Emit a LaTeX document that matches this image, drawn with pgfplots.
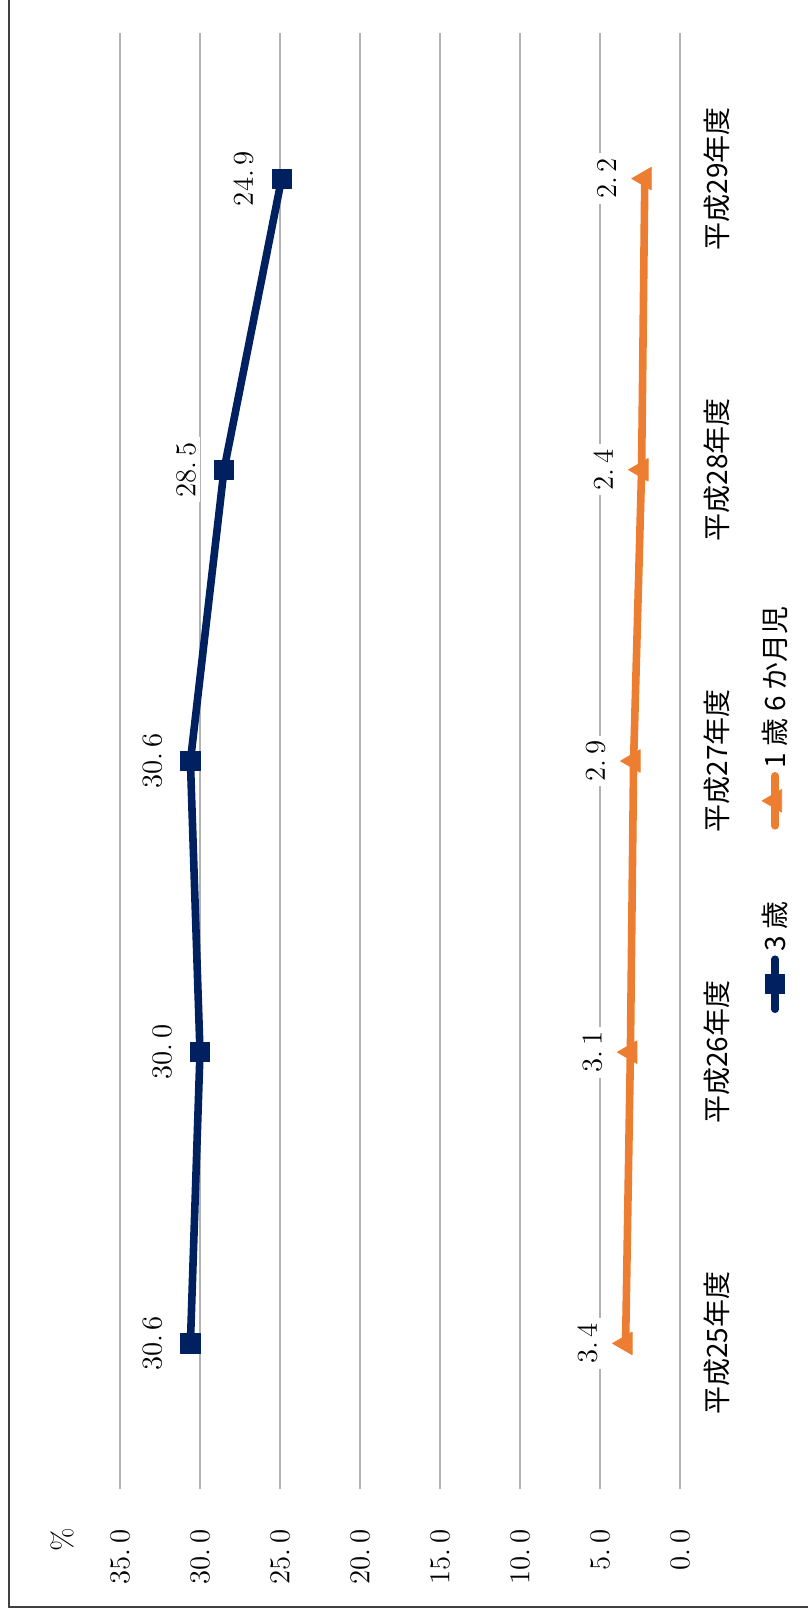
\documentclass[border=0pt]{standalone}
\usepackage{fontspec}
\usepackage{graphicx}
\usepackage{pgfplots}
\pgfplotsset{compat=1.18}
\newfontfamily\jp{Noto Sans CJK JP}
\definecolor{navy}{RGB}{0,32,96}
\definecolor{orng}{RGB}{237,125,49}
\definecolor{gridc}{RGB}{178,178,178}
\definecolor{framec}{RGB}{64,64,64}
\pgfplotsset{/pgf/number format/.cd, fixed, fixed zerofill, precision=1, dec sep={.\,}}
\begin{document}
\rotatebox{90}{%
\begin{tikzpicture}
\useasboundingbox (0,0) rectangle (804.5pt,404pt);
\draw[framec, line width=1.2pt] (1pt,0pt) -- (1pt,399.5pt) -- (804.5pt,399.5pt);
\begin{axis}[
  at={(60pt,64pt)}, anchor=south west,
  scale only axis, width=728pt, height=280pt,
  xmin=-0.5, xmax=4.5, ymin=0, ymax=35,
  xtick={0,1,2,3,4},
  xticklabels={平成25年度,平成26年度,平成27年度,平成28年度,平成29年度},
  ytick={0,5,10,15,20,25,30,35},
  axis line style={draw=none},
  major tick length=0pt,
  ymajorgrids,
  grid style={gridc, line width=1pt},
  clip=false,
  xticklabel style={font=\jp\fontsize{14}{16}\selectfont, anchor=center, yshift=-18.5pt},
  yticklabel style={font=\fontsize{14.5}{17}\selectfont, anchor=east, inner sep=0pt, xshift=-20pt},
  nodes near coords,
  every node near coord/.append style={font=\fontsize{15}{17}\selectfont, anchor=center, yshift=19pt, fill=white, inner sep=2.5pt, text=black},
  legend columns=2,
  legend style={at={(0.468,-0.170)}, anchor=center, draw=none, fill=none,
    font=\jp\fontsize{14}{16}\selectfont,
    /tikz/every even column/.append style={column sep=34pt}},
  legend image code/.code={\draw[#1, line cap=round, mark repeat=2, mark phase=2] plot coordinates {(0pt,0pt) (12.5pt,0pt) (25pt,0pt)};},
]
\addplot[navy, line width=3.8pt, line join=round, mark=square*, mark size=4.8pt, mark options={solid, line width=0.4pt}]
  coordinates {(0,30.6)(1,30.0)(2,30.6)(3,28.5)(4,24.9)};
\addlegendentry{3 歳}
\addplot[orng, line width=3.8pt, line join=round, mark=triangle*, mark size=6.5pt, mark options={solid, line width=0.4pt}]
  coordinates {(0,3.4)(1,3.1)(2,2.9)(3,2.4)(4,2.2)};
\addlegendentry{1 歳 6 か月児}
\end{axis}
\node[anchor=east, inner sep=0pt, font=\fontsize{14.5}{17}\selectfont] at (41pt,373pt) {\%};
\end{tikzpicture}}
\end{document}
